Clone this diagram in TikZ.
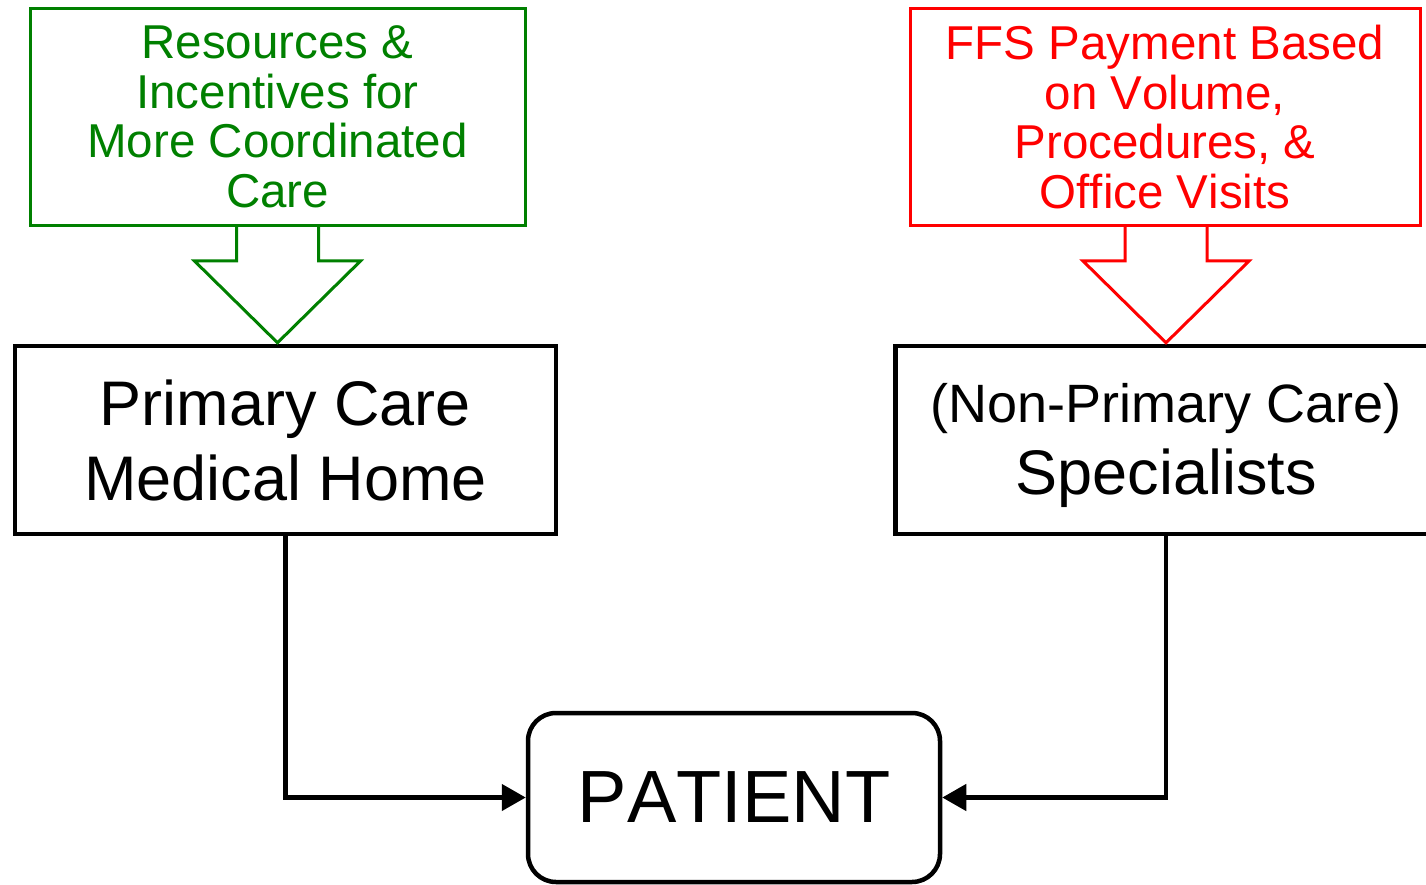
\documentclass[tikz,border=0pt]{standalone}
\usepackage{fontspec}
\setmainfont[Kerning=Off]{Liberation Sans}
\usetikzlibrary{arrows.meta,calc}
\definecolor{boxgreen}{RGB}{0,128,0}
\definecolor{boxred}{RGB}{255,0,0}
\tikzset{
  srcbox/.style={draw, line width=3pt, inner sep=0pt, align=center,
    font=\fontsize{47.5}{49.5}\selectfont, minimum height=217pt},
  blackbox/.style={draw=black, line width=4.5pt, inner sep=0pt, align=center,
    minimum height=188pt, minimum width=541pt},
  blockarrow/.style={line width=3pt, line join=miter},
  conn/.style={draw=black, line width=4.5pt, -{Triangle[length=24pt,width=26pt]}},
}
\begin{document}
\begin{tikzpicture}[x=1pt,y=-1pt]
\useasboundingbox (0,0) rectangle (1426,885);
\clip (0,0) rectangle (1426,885);

% source boxes
\node[srcbox, draw=boxgreen, text=boxgreen, minimum width=495pt] (res) at (277.5,117)
  {Resources \&\\Incentives for\\More Coordinated\\Care};
\node[srcbox, draw=boxred, text=boxred, minimum width=510pt] (ffs) at (1165,117)
  {FFS Payment Based\\on Volume,\\Procedures, \&\\Office Visits};

% main boxes
\node[blackbox, font=\fontsize{63}{75}\selectfont] (pcmh) at (285.5,440)
  {Primary Care\\Medical Home};
\node[blackbox, font=\fontsize{63}{72}\selectfont] (spec) at (1166,440)
  {\rule{0pt}{50pt}{\fontsize{54}{60}\selectfont (Non-Primary Care)}\\Specialists};

% patient
\node[draw=black, line width=4.5pt, rounded corners=28pt, inner sep=0pt,
  minimum width=412pt, minimum height=169pt,
  font=\fontsize{74}{80}\selectfont] (patient) at (734,797.5) {\raisebox{-2pt}{PATIENT}};

% block arrows
\draw[blockarrow, draw=boxgreen]
  ($(res.south)+(-41,0)$) -- ++(0,34) -- ++(-42,0) -- ($(pcmh.north -| res.south)+(0,-1)$)
  -- ($(res.south)+(83,34)$) -- ++(-42,0) -- ++(0,-34);
\draw[blockarrow, draw=boxred]
  ($(ffs.south)+(-40,0)$) -- ++(0,34) -- ++(-42,0) -- ($(spec.north)+(0,-1)$)
  -- ($(ffs.south)+(84,34)$) -- ++(-42,0) -- ++(0,-34);

% connectors
\draw[conn] (pcmh.south) |- (patient.west);
\draw[conn] (spec.south) |- (patient.east);
\end{tikzpicture}
\end{document}
